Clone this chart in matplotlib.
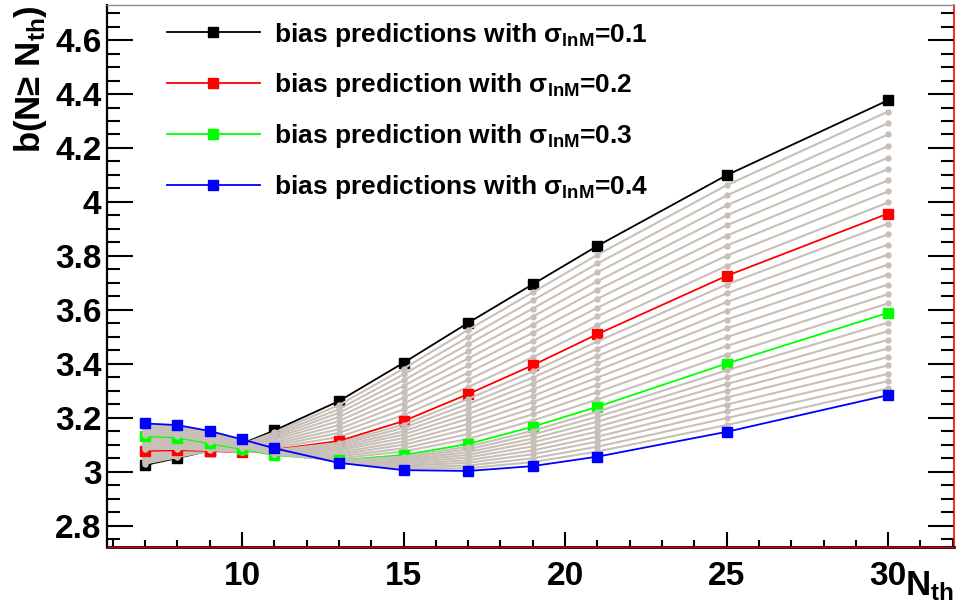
import matplotlib
matplotlib.use("Agg")
import matplotlib.pyplot as plt
import numpy as np
from matplotlib.ticker import MultipleLocator
from matplotlib.lines import Line2D

plt.rcParams["font.family"] = ["Liberation Sans", "DejaVu Sans"]
plt.rcParams["font.weight"] = "bold"
plt.rcParams["mathtext.fontset"] = "custom"
plt.rcParams["mathtext.rm"] = "Liberation Sans:bold"
plt.rcParams["mathtext.bf"] = "Liberation Sans:bold"
plt.rcParams["mathtext.it"] = "Liberation Sans"

# ---- data ----
n_th = [7, 8, 9, 10, 11, 13, 15, 17, 19, 21, 25, 30]
sigma_main = [0.1, 0.2, 0.3, 0.4]
bias_01 = [3.025, 3.051, 3.078, 3.104, 3.153, 3.262, 3.404, 3.552, 3.695, 3.837, 4.099, 4.377]
bias_02 = [3.077, 3.080, 3.077, 3.072, 3.082, 3.114, 3.188, 3.288, 3.395, 3.510, 3.726, 3.957]
bias_03 = [3.132, 3.127, 3.105, 3.084, 3.062, 3.043, 3.062, 3.103, 3.167, 3.241, 3.401, 3.589]
bias_04 = [3.179, 3.173, 3.151, 3.120, 3.087, 3.033, 3.006, 3.003, 3.021, 3.056, 3.148, 3.284]

# intermediate sigma = 0.11..0.19, 0.21..0.29, 0.31..0.39 (one list per N_th)
gray_7 = [3.030, 3.035, 3.041, 3.046, 3.051, 3.056, 3.061, 3.067, 3.072,
          3.083, 3.088, 3.094, 3.099, 3.105, 3.110, 3.116, 3.121, 3.127,
          3.137, 3.141, 3.146, 3.151, 3.156, 3.160, 3.165, 3.170, 3.174]
gray_8 = [3.054, 3.057, 3.060, 3.063, 3.066, 3.068, 3.071, 3.074, 3.077,
          3.085, 3.089, 3.094, 3.099, 3.104, 3.108, 3.113, 3.118, 3.122,
          3.132, 3.136, 3.141, 3.145, 3.150, 3.155, 3.159, 3.164, 3.168]
gray_9 = [3.078, 3.078, 3.078, 3.078, 3.078, 3.077, 3.077, 3.077, 3.077,
          3.080, 3.083, 3.085, 3.088, 3.091, 3.094, 3.097, 3.099, 3.102,
          3.110, 3.114, 3.119, 3.123, 3.128, 3.133, 3.137, 3.142, 3.146]
gray_10 = [3.101, 3.098, 3.094, 3.091, 3.088, 3.085, 3.082, 3.078, 3.075,
           3.073, 3.074, 3.076, 3.077, 3.078, 3.079, 3.080, 3.082, 3.083,
           3.088, 3.091, 3.095, 3.098, 3.102, 3.106, 3.109, 3.113, 3.116]
gray_11 = [3.146, 3.139, 3.132, 3.125, 3.118, 3.110, 3.103, 3.096, 3.089,
           3.080, 3.078, 3.076, 3.074, 3.072, 3.070, 3.068, 3.066, 3.064,
           3.065, 3.067, 3.070, 3.072, 3.075, 3.077, 3.080, 3.082, 3.085]
gray_13 = [3.247, 3.232, 3.218, 3.203, 3.188, 3.173, 3.158, 3.144, 3.129,
           3.107, 3.100, 3.093, 3.086, 3.079, 3.071, 3.064, 3.057, 3.050,
           3.042, 3.041, 3.040, 3.039, 3.038, 3.037, 3.036, 3.035, 3.034]
gray_15 = [3.382, 3.361, 3.339, 3.318, 3.296, 3.274, 3.253, 3.231, 3.210,
           3.175, 3.163, 3.150, 3.138, 3.125, 3.112, 3.100, 3.087, 3.075,
           3.056, 3.051, 3.045, 3.040, 3.034, 3.028, 3.023, 3.017, 3.012]
gray_17 = [3.526, 3.499, 3.473, 3.446, 3.420, 3.394, 3.367, 3.341, 3.314,
           3.270, 3.251, 3.233, 3.214, 3.196, 3.177, 3.159, 3.140, 3.122,
           3.093, 3.083, 3.073, 3.063, 3.053, 3.043, 3.033, 3.023, 3.013]
gray_19 = [3.665, 3.635, 3.605, 3.575, 3.545, 3.515, 3.485, 3.455, 3.425,
           3.372, 3.349, 3.327, 3.304, 3.281, 3.258, 3.235, 3.213, 3.190,
           3.152, 3.138, 3.123, 3.109, 3.094, 3.079, 3.065, 3.050, 3.036]
gray_21 = [3.804, 3.772, 3.739, 3.706, 3.674, 3.641, 3.608, 3.576, 3.543,
           3.483, 3.456, 3.429, 3.402, 3.376, 3.349, 3.322, 3.295, 3.268,
           3.223, 3.204, 3.186, 3.167, 3.149, 3.130, 3.112, 3.093, 3.075]
gray_25 = [4.062, 4.024, 3.987, 3.950, 3.913, 3.875, 3.838, 3.801, 3.763,
           3.694, 3.661, 3.629, 3.596, 3.564, 3.531, 3.499, 3.466, 3.434,
           3.376, 3.350, 3.325, 3.300, 3.275, 3.249, 3.224, 3.199, 3.173]
gray_30 = [4.335, 4.292, 4.250, 4.207, 4.164, 4.122, 4.080, 4.039, 3.998,
           3.920, 3.880, 3.842, 3.805, 3.768, 3.731, 3.694, 3.658, 3.624,
           3.553, 3.521, 3.489, 3.457, 3.425, 3.394, 3.363, 3.336, 3.309]

labels = [r"bias predictions with $\sigma_{\mathbf{lnM}}$=0.1",
          r"bias prediction with $\sigma_{\mathbf{lnM}}$=0.2",
          r"bias prediction with $\sigma_{\mathbf{lnM}}$=0.3",
          r"bias predictions with $\sigma_{\mathbf{lnM}}$=0.4"]

main_curves = [bias_01, bias_02, bias_03, bias_04]
main_colors = ["#000000", "#ff0000", "#00ff00", "#0000ff"]
gray_curves = np.array([gray_7, gray_8, gray_9, gray_10, gray_11, gray_13, gray_15,
                        gray_17, gray_19, gray_21, gray_25, gray_30]).T
GRAY = "#c8c0b8"

fig = plt.figure(figsize=(9.59, 6.14), dpi=100)
ax = fig.add_axes([0.1116, 0.1086, 0.8832, 0.8833])

# draw in sigma order so each curve sits on top of the previous ones
z = 2
for k in range(4):
    ax.plot(n_th, main_curves[k], color=main_colors[k], lw=1.3, marker="s", ms=7.5,
            mec=main_colors[k], zorder=z)
    z += 1
    if k < 3:
        for g in gray_curves[9 * k: 9 * k + 9]:
            ax.plot(n_th, g, color=GRAY, lw=1.5, marker="o", ms=3.6, mec=GRAY, zorder=z)
            z += 1

ax.set_xlim(5.82, 32.04)
ax.set_ylim(2.72, 4.73)
ax.xaxis.set_major_locator(MultipleLocator(5))
ax.xaxis.set_minor_locator(MultipleLocator(1))
ax.yaxis.set_major_locator(MultipleLocator(0.2))
ax.yaxis.set_minor_locator(MultipleLocator(0.05))
ax.yaxis.set_major_formatter(plt.FuncFormatter(lambda v, p: f"{v:g}"))

ax.tick_params(axis="y", which="both", direction="in", left=True, right=True,
               labelsize=24, pad=4, width=1.5, color="black")
ax.tick_params(axis="y", which="major", length=19)
ax.tick_params(axis="y", which="minor", length=9.5)
ax.tick_params(axis="x", which="both", direction="in", bottom=True, top=False,
               labelsize=24, pad=10, width=1.5)
ax.tick_params(axis="x", which="major", length=11)
ax.tick_params(axis="x", which="minor", length=5)

ax.spines["left"].set_linewidth(1.6)
ax.spines["bottom"].set_linewidth(2.0)
ax.spines["right"].set_color("#ff0000")
ax.spines["right"].set_linewidth(1.2)
ax.spines["top"].set_color("#8c8c8c")
ax.spines["top"].set_linewidth(1.0)
ax.axhline(2.72, color="#cc0000", lw=1.0, zorder=50, clip_on=False)

ax.set_ylabel("b(N\u2265 N$_{\\mathbf{th}}$)", fontsize=25, fontweight="bold", loc="top")
ax.yaxis.set_label_coords(-0.068, 1.0)
ax.set_xlabel("N$_{\\mathbf{th}}$", fontsize=25, fontweight="bold", loc="right")
ax.xaxis.set_label_coords(1.0, -0.04)

handles = [Line2D([], [], color=c, lw=1.3, marker="s", ms=7.5, mec=c) for c in main_colors]
ax.legend(handles, labels, loc="upper left", bbox_to_anchor=(0.071, 0.971),
          frameon=False, fontsize=19, handlelength=3.5, handletextpad=0.55,
          labelspacing=0.86, borderpad=0, borderaxespad=0)

fig.savefig("out.png", dpi=100, facecolor="white")
